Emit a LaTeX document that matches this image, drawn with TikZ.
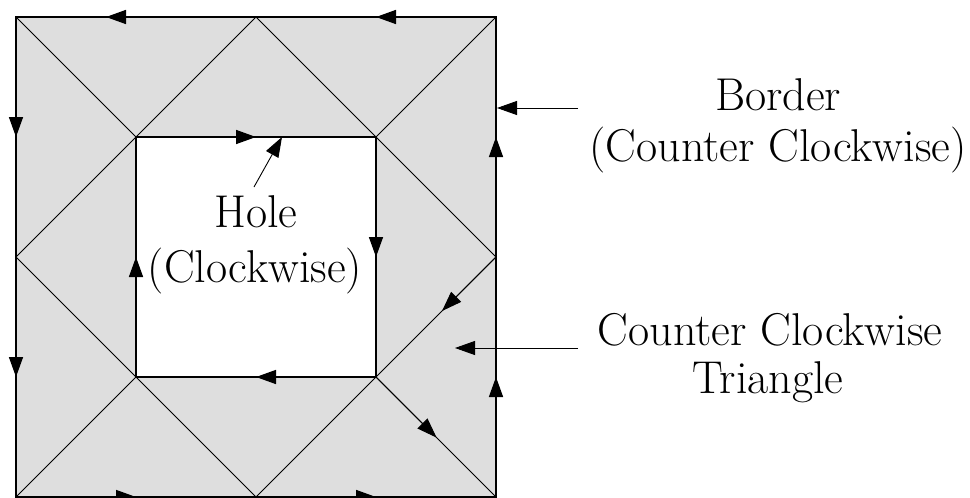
\documentclass[tikz,border=0pt]{standalone}
\usetikzlibrary{arrows.meta,calc}
\definecolor{meshgray}{HTML}{DEDEDE}
\begin{document}
\begin{tikzpicture}[x=1pt,y=-1pt,
  tip/.style={-{Triangle[length=20pt,width=14pt]}},
  edgeline/.style={line width=1.5pt},
  diagline/.style={line width=0.9pt},
  annot/.style={line width=0.9pt,-{Triangle[length=20pt,width=14pt]}},
  lbl/.style={inner sep=0pt,anchor=base,font=\fontsize{46}{55}\selectfont}]
\useasboundingbox (0,0) rectangle (970,498);
% outer corners and midpoints
\coordinate (A) at (16,17);
\coordinate (B) at (256,17);
\coordinate (C) at (496,17);
\coordinate (D) at (16,257);
\coordinate (E) at (496,257);
\coordinate (F) at (16,497);
\coordinate (G) at (256,497);
\coordinate (H) at (496,497);
% inner square
\coordinate (P) at (136,137);
\coordinate (Q) at (376,137);
\coordinate (R) at (376,377);
\coordinate (S) at (136,377);
% fill
\fill[meshgray] (A) rectangle (H);
\fill[white] (P) rectangle (R);
% diagonals
\draw[diagline] (A) -- (P) -- (B) -- (Q) -- (C);
\draw[diagline] (P) -- (D) -- (S) -- (F);
\draw[diagline] (S) -- (G) -- (R) -- (H);
\draw[diagline] (Q) -- (E) -- (R);
% outer border
\draw[edgeline] (A) rectangle (H);
% inner hole
\draw[edgeline] (P) rectangle (R);
% arrows on outer border (counter clockwise)
\draw[edgeline,tip] (C) -- ($(C)!0.5!(B)$);
\draw[edgeline,tip] (B) -- ($(B)!0.625!(A)$);
\draw[edgeline,tip] (A) -- ($(A)!0.5!(D)$);
\draw[edgeline,tip] (D) -- ($(D)!0.5!(F)$);
\draw[edgeline,tip] (F) -- ($(F)!0.5!(G)$);
\draw[edgeline,tip] (G) -- ($(G)!0.5!(H)$);
\draw[edgeline,tip] (H) -- ($(H)!0.5!(E)$);
\draw[edgeline,tip] (E) -- ($(E)!0.5!(C)$);
% arrows on hole (clockwise)
\draw[edgeline,tip] (P) -- ($(P)!0.5!(Q)$);
\draw[edgeline,tip] (Q) -- ($(Q)!0.5!(R)$);
\draw[edgeline,tip] (R) -- ($(R)!0.5!(S)$);
\draw[edgeline,tip] (S) -- ($(S)!0.5!(P)$);
% arrows on a triangle
\draw[diagline,tip] (E) -- ($(E)!0.45!(R)$);
\draw[diagline,tip] (R) -- ($(R)!0.505!(H)$);
% labels
\node[lbl] (border1) at (778,110) {Border};
\node[lbl] (border2) at (778,161) {(Counter Clockwise)};
\node[lbl] (tri1) at (770,345) {Counter Clockwise};
\node[lbl] (tri2) at (768,393) {Triangle};
\node[lbl] (hole1) at (256,227) {Hole};
\node[lbl] (hole2) at (255,282) {(Clockwise)};
% annotation arrows
\coordinate (bstart) at (578,108);
\coordinate (btip) at (497,108);
\coordinate (tstart) at (578,348);
\coordinate (ttip) at (455,348);
\coordinate (hstart) at (254,187);
\coordinate (htip) at (282,137);
\draw[annot] (bstart) -- (btip);
\draw[annot] (tstart) -- (ttip);
\draw[annot] (hstart) -- (htip);
\end{tikzpicture}
\end{document}
